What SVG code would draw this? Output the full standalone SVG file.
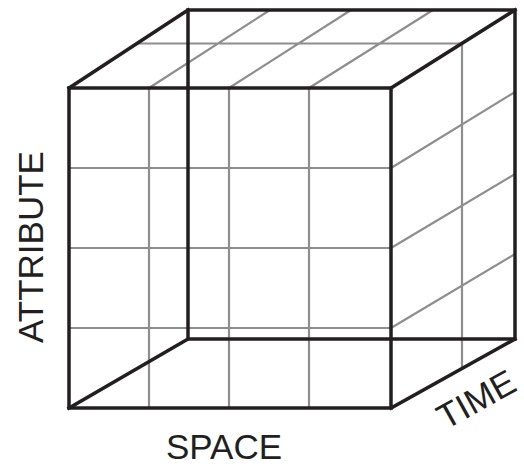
<svg xmlns="http://www.w3.org/2000/svg" width="524" height="466" viewBox="0 0 524 466">
<style>
.g{stroke:#8e8e8e;stroke-width:2.2;fill:none}
.k{stroke:#231f20;stroke-width:3.5;fill:none;stroke-linejoin:miter;stroke-linecap:square}
.t{font-family:"Liberation Sans",Arial,sans-serif;font-size:35px;fill:#231f20}
</style>
<rect width="524" height="466" fill="#fff"/>
<g id="grid">
<path class="g" d="M149,88V408M229,88V408M309,88V408M69,168H391M69,248H391M69,328H391"/>
<path class="g" d="M149,88L270,10M229,88L351,10M309,88L433,10M137,43.5H462V368"/>
<path class="g" d="M391,168L515,92M391,248L515,174M391,328L515,254"/>
</g>
<g id="edges">
<rect class="k" x="188" y="10" width="327" height="329"/>
<rect class="k" x="69" y="88" width="322" height="320"/>
<path class="k" d="M69,88L188,10M391,88L515,10M69,408L188,339M391,408L515,339"/>
</g>
<g id="labels">
<text class="t" x="224" y="459" text-anchor="middle">SPACE</text>
<text class="t" text-anchor="middle" transform="translate(43,247) rotate(-90)">ATTRIBUTE</text>
<text class="t" text-anchor="middle" transform="translate(482,410) rotate(-29)">TIME</text>
</g>
</svg>
